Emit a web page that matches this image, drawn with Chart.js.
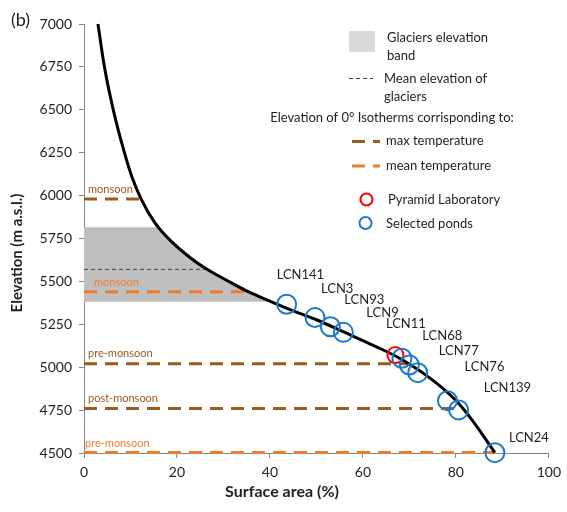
<!DOCTYPE html>
<html>
<head>
<meta charset="utf-8">
<script src="https://cdn.jsdelivr.net/npm/chart.js@4/dist/chart.umd.min.js"></script>
<style>
  html, body { margin: 0; padding: 0; background: #fff; }
</style>
</head>
<body>
<canvas id="hypsoChart" width="567" height="512"></canvas>
<script>
// hypsometric curve (surface area % above elevation)
const curveArea = [3.0, 4.4, 6.3, 8.7, 10.3, 12.3, 15.3, 18.9, 23.0, 26.2, 31.8, 35.3, 40.2, 45.0, 50.1, 56.0, 62.9, 67.9, 75.0, 79.9, 83.5, 88.4];
const curveElev = [7000, 6750, 6500, 6250, 6110, 5980, 5840, 5730, 5635, 5575, 5490, 5440, 5382, 5328, 5275, 5204, 5119, 5052, 4925, 4809, 4692, 4502];

// glaciers
const glacierBandTop = 5815;
const glacierBandBottom = 5382;
const glacierMeanElev = 5570;

// 0° isotherms
const isoMaxElev = [5980, 5020, 4760];
const isoMaxSeason = ["monsoon", "pre-monsoon", "post-monsoon"];
const isoMeanElev = [5440, 4503];
const isoMeanSeason = ["monsoon", "pre-monsoon"];

// ponds + pyramid lab
const pondNames = ["LCN141", "LCN3", "LCN93", "LCN9", "LCN11", "LCN68", "LCN77", "LCN76", "LCN139", "LCN24"];
const pondArea = [43.6, 49.7, 53.0, 55.8, 68.4, 70.0, 71.8, 78.2, 80.6, 88.4];
const pondElev = [5367, 5289, 5236, 5203, 5052, 5013, 4968, 4805, 4751, 4502];
const pyramidArea = [67.0];
const pyramidElev = [5071];

const xTicks = [0, 20, 40, 60, 80, 100];
const yTicks = [4500, 4750, 5000, 5250, 5500, 5750, 6000, 6250, 6500, 6750, 7000];

const BROWN = "#9C5A1E";
const ORANGE = "#EE7D2F";
const BLUE = "#1E78C8";
const AXIS = "#868686";
const TEXT = "#1f1f1f";

// area on the curve at a given elevation (where the horizontal lines meet it)
function areaAt(elev) {
  for (let i = 0; i < curveElev.length - 1; i++) {
    const a = curveElev[i], b = curveElev[i + 1];
    if (elev <= a && elev >= b) {
      const t = (a - elev) / (a - b);
      return curveArea[i] + t * (curveArea[i + 1] - curveArea[i]);
    }
  }
  return curveArea[curveArea.length - 1];
}

function hLine(elev) {
  return [{ x: 0, y: elev }, { x: areaAt(elev), y: elev }];
}

// band polygon: from y axis to the curve, between bottom and top
const bandPoly = [{ x: 0, y: glacierBandTop }, { x: areaAt(glacierBandTop), y: glacierBandTop }];
curveElev.forEach((e, i) => {
  if (e < glacierBandTop && e > glacierBandBottom) bandPoly.push({ x: curveArea[i], y: e });
});
bandPoly.push({ x: areaAt(glacierBandBottom), y: glacierBandBottom });
bandPoly.push({ x: 0, y: glacierBandBottom });

// label offsets in px from each pond circle
const pondLabelOffset = [[-10, -29], [6, -29], [14, -27], [23, -20], [-16, -34], [13, -29], [21, -22], [17, -34], [25, -22], [14, -15]];
const isoMaxLabelDx = [4, 4, 4];
const isoMeanLabelDx = [10, 1];

// datasets: first in list is drawn on top
const datasets = [
  {
    label: "Selected ponds",
    data: pondArea.map((x, i) => ({ x, y: pondElev[i] })),
    pointRadius: 9.5,
    pointBorderWidth: 2,
    pointBorderColor: BLUE,
    pointBackgroundColor: "rgba(0,0,0,0)",
    showLine: false,
    clip: false,
  },
  {
    label: "Pyramid Laboratory",
    data: pyramidArea.map((x, i) => ({ x, y: pyramidElev[i] })),
    pointRadius: 8,
    pointBorderWidth: 2,
    pointBorderColor: "#FF0000",
    pointBackgroundColor: "rgba(0,0,0,0)",
    showLine: false,
    clip: false,
  },
  {
    label: "curve",
    data: curveArea.map((x, i) => ({ x, y: curveElev[i] })),
    showLine: true,
    borderColor: "#000",
    borderWidth: 3,
    pointRadius: 0,
    cubicInterpolationMode: "monotone",
    clip: false,
  },
];

isoMeanElev.forEach((e) => {
  datasets.push({
    data: hLine(e), showLine: true, borderColor: ORANGE, borderWidth: 3,
    borderDash: [13, 8], pointRadius: 0, clip: false,
  });
});
isoMaxElev.forEach((e) => {
  datasets.push({
    data: hLine(e), showLine: true, borderColor: BROWN, borderWidth: 3,
    borderDash: [13, 8], pointRadius: 0, clip: false,
  });
});
datasets.push({
  data: hLine(glacierMeanElev), showLine: true, borderColor: "#404040", borderWidth: 1,
  borderDash: [4, 3], pointRadius: 0,
});
datasets.push({
  data: bandPoly, showLine: true, borderWidth: 0, borderColor: "rgba(0,0,0,0)",
  backgroundColor: "#BFBFBF", fill: "shape", pointRadius: 0, tension: 0,
});

const overlay = {
  id: "overlay",
  afterDatasetsDraw(chart) {
    const { ctx } = chart;
    const xs = chart.scales.x, ys = chart.scales.y;
    ctx.save();
    ctx.textBaseline = "middle";
    ctx.textAlign = "left";

    // pond names
    ctx.font = "13px Lato";
    ctx.fillStyle = TEXT;
    pondNames.forEach((name, i) => {
      const px = xs.getPixelForValue(pondArea[i]) + pondLabelOffset[i][0];
      const py = ys.getPixelForValue(pondElev[i]) + pondLabelOffset[i][1];
      ctx.fillText(name, px, py);
    });

    // season labels above isotherm lines
    ctx.font = "11px Lato";
    ctx.fillStyle = BROWN;
    isoMaxSeason.forEach((s, i) => {
      ctx.fillText(s, xs.getPixelForValue(0) + isoMaxLabelDx[i], ys.getPixelForValue(isoMaxElev[i]) - 10);
    });
    ctx.fillStyle = ORANGE;
    isoMeanSeason.forEach((s, i) => {
      ctx.fillText(s, xs.getPixelForValue(0) + isoMeanLabelDx[i], ys.getPixelForValue(isoMeanElev[i]) - 9);
    });

    // legend
    ctx.font = "13px Lato";
    ctx.fillStyle = "#D9D9D9";
    ctx.fillRect(349, 31, 26, 21);
    ctx.fillStyle = TEXT;
    ctx.fillText("Glaciers elevation", 387, 38);
    ctx.fillText("band", 387, 56);

    ctx.strokeStyle = "#404040";
    ctx.lineWidth = 1;
    ctx.setLineDash([4, 3]);
    ctx.beginPath(); ctx.moveTo(349, 78.5); ctx.lineTo(373, 78.5); ctx.stroke();
    ctx.fillText("Mean elevation of", 384, 79);
    ctx.fillText("glaciers", 384, 97);

    ctx.textAlign = "center";
    ctx.fillText("Elevation of 0° Isotherms corrisponding to:", 392, 118);
    ctx.textAlign = "left";

    ctx.lineWidth = 3;
    ctx.setLineDash([13, 8]);
    ctx.strokeStyle = BROWN;
    ctx.beginPath(); ctx.moveTo(352, 141.5); ctx.lineTo(380, 141.5); ctx.stroke();
    ctx.fillText("max temperature", 386, 141);
    ctx.strokeStyle = ORANGE;
    ctx.beginPath(); ctx.moveTo(352, 166); ctx.lineTo(380, 166); ctx.stroke();
    ctx.fillText("mean temperature", 386, 166);
    ctx.setLineDash([]);

    ctx.lineWidth = 2;
    ctx.strokeStyle = "#FF0000";
    ctx.beginPath(); ctx.arc(366.5, 199.5, 6, 0, Math.PI * 2); ctx.stroke();
    ctx.fillText("Pyramid Laboratory", 388, 200);
    ctx.strokeStyle = BLUE;
    ctx.beginPath(); ctx.arc(365.5, 223, 6, 0, Math.PI * 2); ctx.stroke();
    ctx.fillText("Selected ponds", 386, 224);

    // axis titles and panel tag
    ctx.font = "bold 16px Lato";
    ctx.textAlign = "center";
    ctx.fillText("Surface area (%)", 282, 492);
    ctx.save();
    ctx.translate(17, 253);
    ctx.rotate(-Math.PI / 2);
    ctx.font = "bold 15px Lato";
    ctx.fillText("Elevation (m a.s.l.)", 0, 0);
    ctx.restore();
    ctx.font = "18px Lato";
    ctx.textAlign = "left";
    ctx.fillText("(b)", 11, 20);

    ctx.restore();
  },
};

Chart.defaults.font.family = "Lato";
Chart.defaults.color = TEXT;

new Chart(document.getElementById("hypsoChart"), {
  type: "scatter",
  data: { datasets },
  options: {
    responsive: false,
    animation: false,
    layout: { padding: { top: 24, right: 13, bottom: 0, left: 0 } },
    plugins: { legend: { display: false }, tooltip: { enabled: false } },
    scales: {
      x: {
        type: "linear",
        min: 0,
        max: 100,
        afterBuildTicks: (s) => { s.ticks = xTicks.map((v) => ({ value: v })); },
        afterFit: (s) => { s.height = 59; },
        ticks: { font: { size: 14 }, padding: 6, color: TEXT, callback: (v) => String(v) },
        grid: { drawOnChartArea: false, tickLength: 5, color: AXIS },
        border: { color: AXIS },
      },
      y: {
        type: "linear",
        min: 4500,
        max: 7000,
        afterBuildTicks: (s) => { s.ticks = yTicks.map((v) => ({ value: v })); },
        afterFit: (s) => { s.width = 84; },
        ticks: { font: { size: 14 }, padding: 7, color: TEXT, callback: (v) => String(v) },
        grid: { drawOnChartArea: false, tickLength: 5, color: AXIS },
        border: { color: AXIS },
      },
    },
  },
  plugins: [overlay],
});
</script>
</body>
</html>
